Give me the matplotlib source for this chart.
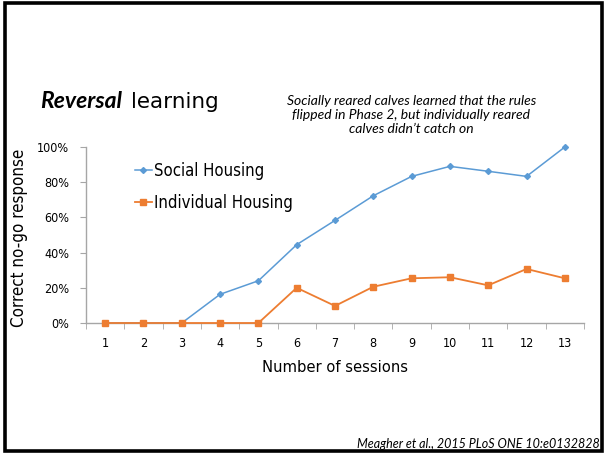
import numpy as np
import matplotlib
matplotlib.use('Agg')
import matplotlib.pyplot as plt
from matplotlib.patches import Rectangle

plt.rc('font', family='DejaVu Sans', stretch='condensed')

sessions = list(range(1, 14))
social = [0, 0, 0, 16.3, 24.0, 44.5, 58.3, 72.3, 83.3, 89.0, 86.2, 83.3, 100]
individual = [0, 0, 0, 0, 0, 20.0, 9.7, 20.6, 25.4, 26.0, 21.4, 30.7, 25.4]
social_lbl = 'Social Housing'
indiv_lbl = 'Individual Housing'

blue = '#5B9BD5'
orange = '#ED7D31'
grey = '#A6A6A6'

fig = plt.figure(figsize=(6.05, 4.54), dpi=100)
W, H = 605, 454

# slide frame
fig.patches.append(Rectangle((5 / W, 3.5 / H), 597 / W, 447.5 / H, transform=fig.transFigure,
                             fill=False, edgecolor='black', lw=2.6))

ax = fig.add_axes([86 / W, 1 - 323 / H, 498 / W, 176 / H])
ax.plot(sessions, np.array(social) / 100, '-D', color=blue, lw=1.1, ms=3,
        label=social_lbl, clip_on=False, zorder=3)
ax.plot(sessions, np.array(individual) / 100, '-s', color=orange, lw=1.3, ms=4,
        label=indiv_lbl, clip_on=False, zorder=4)

ax.set_xlim(0.5, 13.5)
ax.set_ylim(0, 1)
for s in ['top', 'right']:
    ax.spines[s].set_visible(False)
for s in ['left', 'bottom']:
    ax.spines[s].set_color(grey)
    ax.spines[s].set_linewidth(1)

ax.set_xticks(sessions)
ax.set_xticks(np.arange(0.5, 14, 1), minor=True)
ax.tick_params(axis='x', which='major', length=0, pad=10, labelsize=9)
ax.tick_params(axis='x', which='minor', length=4, color=grey, direction='out')
ax.set_yticks(np.arange(0, 1.01, 0.2))
ax.set_yticklabels(['%d%%' % v for v in range(0, 101, 20)])
ax.tick_params(axis='y', length=4, color=grey, labelsize=9, pad=8)

ax.set_xlabel('Number of sessions', fontsize=11.8, labelpad=7)
fig.text(19 / W, 1 - 238 / H, 'Correct no-go response', fontsize=12.2,
         rotation=90, ha='center', va='center')

fig.legend(loc='upper left', bbox_to_anchor=(135 / W, 1 - 162 / H), frameon=False,
           fontsize=12, handlelength=1.0, handletextpad=0.15, labelspacing=0.85,
           borderpad=0, borderaxespad=0)

# slide heading and note
fig.text(40 / W, 1 - 107.5 / H, 'Reversal', fontsize=16.5, family=['Lato', 'DejaVu Sans'],
         fontweight='bold', fontstyle='italic', va='baseline')
fig.text(131 / W, 1 - 107.5 / H, 'learning', fontsize=15.5, family='DejaVu Sans',
         stretch='normal', va='baseline')
fig.text(411.5 / W, 1 - 115 / H,
         'Socially reared calves learned that the rules\nflipped in Phase 2, but individually reared\ncalves didn\u2019t catch on',
         fontsize=10, family=['Lato', 'DejaVu Sans'], fontstyle='italic',
         ha='center', va='center', linespacing=1.22)
fig.text(600 / W, 1 - 444 / H, 'Meagher et al., 2015 PLoS ONE 10:e0132828',
         fontsize=9, family=['Lato', 'DejaVu Sans'], fontstyle='italic',
         ha='right', va='center')

fig.savefig('out.png', dpi=100)
